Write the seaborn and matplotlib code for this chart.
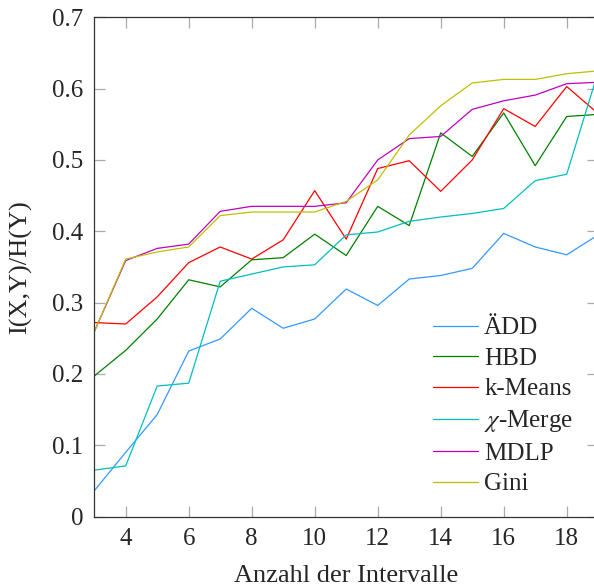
import numpy as np
import pandas as pd
import seaborn as sns
import matplotlib.pyplot as plt

# Werte
intervalle = list(range(3, 20))

aedd = [0.036, 0.090, 0.143, 0.232, 0.249, 0.292, 0.264, 0.277, 0.319,
        0.296, 0.333, 0.338, 0.348, 0.397, 0.378, 0.367, 0.395]
hbd = [0.197, 0.233, 0.277, 0.332, 0.322, 0.360, 0.363, 0.396, 0.366,
       0.435, 0.408, 0.538, 0.505, 0.566, 0.492, 0.561, 0.564]
kmeans = [0.272, 0.270, 0.308, 0.356, 0.378, 0.361, 0.388, 0.457, 0.389,
          0.488, 0.499, 0.456, 0.500, 0.572, 0.547, 0.603, 0.565]
chimerge = [0.065, 0.071, 0.183, 0.187, 0.330, 0.340, 0.350, 0.353, 0.395,
            0.399, 0.414, 0.420, 0.425, 0.432, 0.471, 0.480, 0.624]
mdlp = [0.259, 0.359, 0.376, 0.382, 0.428, 0.435, 0.435, 0.435, 0.440,
        0.500, 0.530, 0.533, 0.571, 0.583, 0.591, 0.607, 0.609]
gini = [0.259, 0.361, 0.371, 0.378, 0.422, 0.427, 0.427, 0.427, 0.442,
        0.472, 0.535, 0.576, 0.608, 0.613, 0.613, 0.621, 0.625]

namen = ['ÄDD', 'HBD', 'k-Means', r'$\chi$-Merge', 'MDLP', 'Gini']
farben = ['#3399ff', '#008000', '#ff0000', '#00bfbf', '#bf00bf', '#bfbf00']

df = pd.DataFrame({
    'x': intervalle * 6,
    'y': aedd + hbd + kmeans + chimerge + mdlp + gini,
    'Verfahren': np.repeat(namen, len(intervalle)),
})

sns.set_style('ticks')
plt.rcParams['font.family'] = 'serif'
plt.rcParams['font.serif'] = ['Liberation Serif', 'DejaVu Serif']
plt.rcParams['mathtext.fontset'] = 'stix'
plt.rcParams['font.size'] = 18

fig = plt.figure(figsize=(5.94, 5.87), dpi=100)
ax = fig.add_axes([0.1586, 0.1201, 0.8485, 0.8503])

sns.lineplot(data=df, x='x', y='y', hue='Verfahren', hue_order=namen,
             palette=farben, linewidth=0.9, ax=ax)

ax.set_xlim(3, 19)
ax.set_ylim(0, 0.7)
ax.set_xticks(range(4, 19, 2))
ax.set_yticks(np.arange(0, 0.71, 0.1))
ax.set_yticklabels(['0', '0.1', '0.2', '0.3', '0.4', '0.5', '0.6', '0.7'])
ax.set_xlabel('Anzahl der Intervalle', fontsize=19, labelpad=11)
ax.set_ylabel('I(X,Y)/H(Y)', fontsize=19, labelpad=14)

for s in ax.spines.values():
    s.set_visible(True)
    s.set_color('#333333')
    s.set_linewidth(0.9)
ax.tick_params(direction='in', length=8, width=0.9, color='#aaaaaa',
               top=True, right=True, labelsize=18, pad=8)

ax.legend(frameon=False, loc='upper left', bbox_to_anchor=(0.672, 0.40),
          borderaxespad=0, borderpad=0, handlelength=1.8, handletextpad=0.25,
          labelspacing=0.32, fontsize=18)

fig.savefig('out.png', dpi=100)
